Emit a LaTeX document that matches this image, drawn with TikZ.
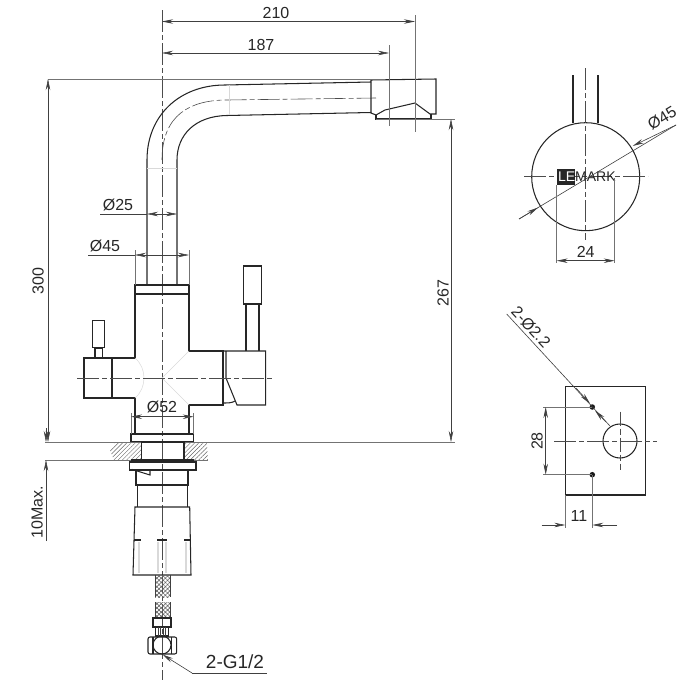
\documentclass[tikz,border=0pt]{standalone}
\usepackage{fontspec}
\setmainfont{Liberation Sans}
\usetikzlibrary{arrows.meta,patterns.meta}
\tikzset{
    outline/.style={line width=1.05pt,black!85},
    dimline/.style={line width=0.6pt,black!75},
    extline/.style={line width=0.6pt,black!55},
    centre/.style={line width=0.6pt,black!70,dash pattern=on 22pt off 3pt on 5pt off 3pt},
    faint/.style={line width=0.5pt,black!15},
    dimtip/.style={{Stealth[length=11pt,width=4.5pt]}-{Stealth[length=11pt,width=4.5pt]}},
    tipend/.style={-{Stealth[length=11pt,width=4.5pt]}},
    dimtext/.style={font=\fontsize{16}{16}\selectfont,black!85,inner sep=0pt},
    cut/.style={pattern={Lines[angle=45,distance=3pt,line width=.45pt]},pattern color=black!60},
    braid/.style={pattern={Lines[angle=#1,distance=3pt,line width=.6pt]},pattern color=black!60,draw=none},
}
\begin{document}
\begin{tikzpicture}[x=1pt,y=-1pt]
    \useasboundingbox (0,0) rectangle (689,680);

    % faucet spout
    \draw[centre] (162,10) -- (162,680);
    \draw[centre] (162,160) .. controls (162,115) and (190,100) .. (227,100) -- (376,98);
    \draw[outline] (147,285) -- (147,160) .. controls (147,115) and (180,85) .. (225,85) -- (371,82);
    \draw[outline] (177,285) -- (177,160) .. controls (177,135) and (195,116) .. (227,115.5) -- (371,112.5);
    \draw[outline] (371,113) -- (371,80) -- (436,79) -- (436,114) -- (430,114) -- (415,103) -- (385,110) -- (376,115) -- cycle;
    \draw[outline] (376,115) -- (376,119) -- (431,119) -- (431,114);
    \draw[faint] (229,85) -- (229,115);
    \draw[faint] (147,168) -- (177,168);

    % body
    \draw[outline] (135,285) rectangle (189,294);
    \draw[outline] (135,294) -- (135,358) -- (84,358) -- (84,398) -- (135,398) -- (135,434);
    \draw[outline] (189,294) -- (189,351) -- (223,351) -- (223,405) -- (189,405) -- (189,434);
    \draw[outline,line width=1.8pt] (111.7,358) -- (111.7,398);
    \draw[outline] (95,358) -- (95,348) -- (102.3,348) -- (102.3,358);
    \draw[outline] (92.3,347.7) rectangle (104.7,320.7);
    \draw[outline] (223,351) -- (265.7,351) -- (265.7,405) -- (237,405) -- (226,378) -- (226,351);
    \draw[outline] (223,403) .. controls (228,403) and (232,403) .. (235,401);
    \draw[outline] (246,351) -- (246,304) -- (259,304) -- (259,351);
    \draw[outline] (243.7,304) rectangle (261.3,266);
    \draw[faint] (135,358) .. controls (147,368) and (147,388) .. (135,398);
    \draw[faint] (189,351) -- (162,378) -- (189,405);
    \draw[centre] (77,378) -- (272,378);

    % counter top and mounting
    \draw[outline] (131,434) rectangle (193.7,442);
    \draw[cut,draw=none] (115,442) -- (110,450) -- (114,460) -- (141.7,460) -- (141.7,442) -- cycle;
    \draw[cut,draw=none] (184,442) -- (206.7,442) -- (208,460) -- (184,460) -- cycle;
    \draw[extline,line width=.9pt] (45,442) -- (141,442) (45,460) -- (141,460) (184,442) -- (455,442) (184,460) -- (208,460);
    \draw[outline] (141.7,442) rectangle (184,460);
    \draw[outline] (131.7,460) rectangle (193,462);
    \draw[outline] (129.3,462) rectangle (196,470);
    \draw[outline] (136,470) -- (136,485) -- (188,485) -- (188,470);
    \draw[outline] (131.7,469.3) -- (150,475) -- (150,470);
    \draw[outline] (137.3,485) -- (137.3,507) (187.7,485) -- (187.7,507);
    \draw[outline] (135,507) -- (133,575) -- (191,575) -- (189.7,507) -- cycle;
    \draw[outline] (133.5,540) -- (141,540) (157,540) -- (167,540) (184,540) -- (190.5,540);
    \draw[faint,line width=2pt] (139,542) -- (139,573) (186,542) -- (186,573) (158,542) -- (158,573) (166,542) -- (166,573);

    % hose and connector
    \draw[braid=45] (155,575) rectangle (170,597);
    \draw[braid=-45] (155,575) rectangle (170,597);
    \draw[braid=45] (155,602) rectangle (170,618);
    \draw[braid=-45] (155,602) rectangle (170,618);
    \draw[dimline] (155,575) -- (155,597) (170,575) -- (170,597) (155,602) -- (155,618) (170,602) -- (170,618);
    \draw[outline] (153,618) rectangle (171,627);
    \draw[outline] (155.7,627) rectangle (168.3,636);
    \foreach \ribx in {158,160.5,163,165.5}
        \draw[dimline] (\ribx,627) -- (\ribx,636);
    \draw[outline,rounded corners=2pt] (148,637) rectangle (176.7,654);
    \draw[outline] (153,637) -- (153,654) (171.7,637) -- (171.7,654);
    \node[circle,draw=black!85,line width=1.05pt,minimum size=18pt,inner sep=0pt] (fitting) at (162,645) {};

    % dimensions of the side view
    \draw[extline] (48,79) -- (371,79);
    \draw[extline] (389,45) -- (389,126);
    \draw[extline] (415,15) -- (415,132);
    \draw[extline] (376,119) -- (455,119);
    \draw[dimline,dimtip] (162,21.5) -- (415,21.5);
    \node[dimtext] (w210) at (276,13) {210};
    \draw[dimline,dimtip] (162,53) -- (389,53);
    \node[dimtext] (w187) at (261,45) {187};
    \draw[dimline,dimtip] (48,79) -- (48,442);
    \node[dimtext,rotate=90] (h300) at (38,281) {300};
    \draw[dimline,dimtip] (451,119) -- (451,442);
    \node[dimtext,rotate=90] (h267) at (443,293) {267};
    \draw[dimline] (100,214) -- (147,214);
    \draw[dimline,dimtip] (147,214) -- (177,214);
    \node[dimtext] (d25) at (118,205) {Ø25};
    \draw[extline] (135,250) -- (135,285) (189,250) -- (189,285);
    \draw[dimline] (88,255) -- (135,255);
    \draw[dimline,dimtip] (135,255) -- (189,255);
    \node[dimtext] (d45) at (105,246) {Ø45};
    \draw[extline] (131,413) -- (131,434) (193.7,413) -- (193.7,434);
    \draw[dimline,dimtip] (131,416.7) -- (193.7,416.7);
    \node[dimtext] (d52) at (162,407) {Ø52};
    \draw[dimline,tipend] (46,428) -- (46,442);
    \draw[dimline,tipend] (46,541) -- (46,460);
    \node[dimtext,rotate=90] (max) at (37,512) {10Max.};
    \draw[dimline,tipend] (192,673) -- (162.5,654.5);
    \draw[dimline] (192,673) -- (267,673);
    \node[dimtext,font=\fontsize{19}{19}\selectfont] (g12) at (235,662) {2-G1/2};

    % front view
    \draw[outline] (573,75) -- (573,123) (598,75) -- (598,123);
    \node[circle,draw=black!85,line width=1.05pt,minimum size=108pt,inner sep=0pt] (head) at (585.7,176.7) {};
    \draw[centre] (585.7,68) -- (585.7,240);
    \draw[centre] (524,176.7) -- (648,176.7);
    \fill[black!85] (556.7,168.7) rectangle (575,185);
    \node[dimtext,white,font=\fontsize{14}{14}\selectfont,anchor=west] (logoa) at (558,177) {LE};
    \node[dimtext,font=\fontsize{14}{14}\selectfont,anchor=west] (logob) at (575,177) {MARK};
    \coordinate (P) at (519,219);
    \coordinate (Q) at (676,125);
    \draw[dimline] (P) -- (Q);
    \draw[dimline,tipend] (P) -- (538,207.6);
    \draw[dimline,tipend] (Q) -- (632.7,146);
    \node[dimtext,rotate=31] (d45b) at (662,118) {Ø45};
    \draw[extline] (556.7,185) -- (556.7,263) (614.7,178) -- (614.7,263);
    \draw[dimline,dimtip] (556.7,260.7) -- (614.7,260.7);
    \node[dimtext] (w24) at (585.7,252) {24};

    % mounting plate
    \draw[outline] (565.3,386.3) rectangle (645.7,495);
    \node[circle,draw=black!85,line width=1.05pt,minimum size=34pt,inner sep=0pt] (hole) at (620,441) {};
    \node[circle,fill=black!90,minimum size=5.5pt,inner sep=0pt] (dota) at (592.3,407) {};
    \node[circle,fill=black!90,minimum size=5.5pt,inner sep=0pt] (dotb) at (592.3,474.7) {};
    \draw[centre] (554,441) -- (657,441);
    \draw[centre,dash pattern=on 14pt off 3pt on 6pt off 3pt] (620,411.7) -- (620,470);
    \draw[extline] (543,407) -- (dota.center) (543,474.7) -- (dotb.center);
    \draw[dimline,dimtip] (545.7,407) -- (545.7,474.7);
    \node[dimtext,rotate=90] (h28) at (537,441) {28};
    \draw[extline] (565.3,495) -- (565.3,528) (592.3,475) -- (592.3,528);
    \draw[dimline,tipend] (541.7,525) -- (565.3,525);
    \draw[dimline,tipend] (617,525) -- (592.3,525);
    \node[dimtext] (w11) at (579,516) {11};
    \draw[dimline] (506.7,314) -- (610,426);
    \draw[dimline,tipend] (576,388) -- (590,403.5);
    \draw[dimline,tipend] (606,422) -- (595,410.5);
    \node[dimtext,rotate=-47] (d22) at (531,327) {2-Ø2.2};
\end{tikzpicture}
\end{document}
